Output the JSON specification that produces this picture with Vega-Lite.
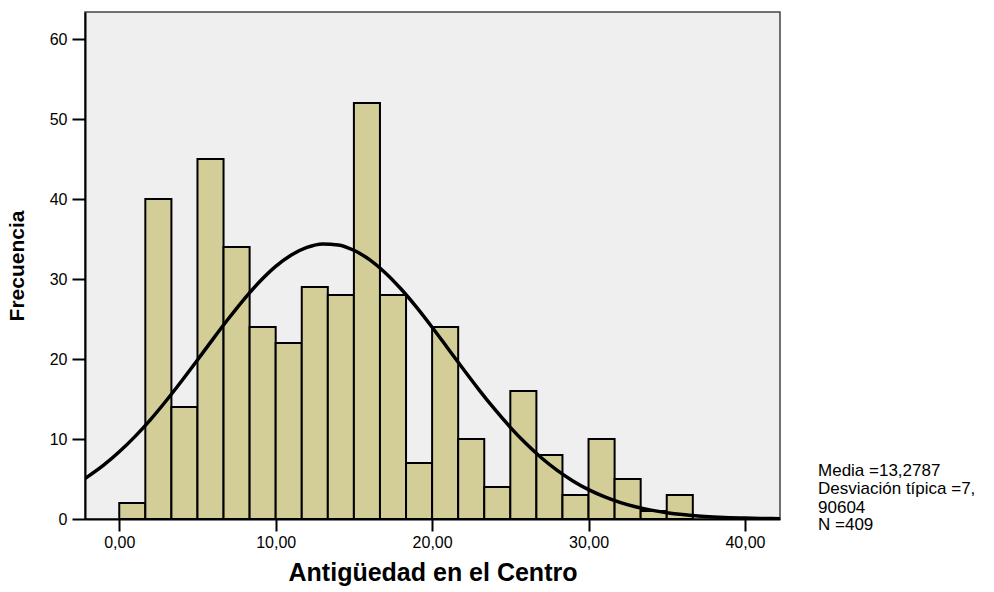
{
  "$schema": "https://vega.github.io/schema/vega-lite/v6.json",
  "width": 695,
  "height": 507,
  "autosize": "none",
  "padding": {"left": 85, "top": 12, "right": 214, "bottom": 73},
  "background": "white",
  "config": {
    "font": "Liberation Sans",
    "view": {"fill": "#efefef", "stroke": "#444444", "strokeWidth": 1.5}
  },
  "datasets": {
    "bins": [
      {"x": 0.0, "x2": 1.6667, "y": 2},
      {"x": 1.6667, "x2": 3.3333, "y": 40},
      {"x": 3.3333, "x2": 5.0, "y": 14},
      {"x": 5.0, "x2": 6.6667, "y": 45},
      {"x": 6.6667, "x2": 8.3333, "y": 34},
      {"x": 8.3333, "x2": 10.0, "y": 24},
      {"x": 10.0, "x2": 11.6667, "y": 22},
      {"x": 11.6667, "x2": 13.3333, "y": 29},
      {"x": 13.3333, "x2": 15.0, "y": 28},
      {"x": 15.0, "x2": 16.6667, "y": 52},
      {"x": 16.6667, "x2": 18.3333, "y": 28},
      {"x": 18.3333, "x2": 20.0, "y": 7},
      {"x": 20.0, "x2": 21.6667, "y": 24},
      {"x": 21.6667, "x2": 23.3333, "y": 10},
      {"x": 23.3333, "x2": 25.0, "y": 4},
      {"x": 25.0, "x2": 26.6667, "y": 16},
      {"x": 26.6667, "x2": 28.3333, "y": 8},
      {"x": 28.3333, "x2": 30.0, "y": 3},
      {"x": 30.0, "x2": 31.6667, "y": 10},
      {"x": 31.6667, "x2": 33.3333, "y": 5},
      {"x": 33.3333, "x2": 35.0, "y": 1},
      {"x": 35.0, "x2": 36.6667, "y": 3}
    ],
    "curve": [
      {"x": -2.19, "y": 5.06},
      {"x": -1, "y": 6.73},
      {"x": 0, "y": 8.40},
      {"x": 1, "y": 10.30},
      {"x": 2, "y": 12.43},
      {"x": 3, "y": 14.78},
      {"x": 4, "y": 17.28},
      {"x": 5, "y": 19.88},
      {"x": 6, "y": 22.52},
      {"x": 7, "y": 25.09},
      {"x": 8, "y": 27.53},
      {"x": 9, "y": 29.71},
      {"x": 10, "y": 31.57},
      {"x": 11, "y": 33.00},
      {"x": 12, "y": 33.95},
      {"x": 13, "y": 34.38},
      {"x": 14, "y": 34.26},
      {"x": 15, "y": 33.59},
      {"x": 16, "y": 32.42},
      {"x": 17, "y": 30.79},
      {"x": 18, "y": 28.78},
      {"x": 19, "y": 26.48},
      {"x": 20, "y": 23.97},
      {"x": 21, "y": 21.35},
      {"x": 22, "y": 18.72},
      {"x": 23, "y": 16.15},
      {"x": 24, "y": 13.72},
      {"x": 25, "y": 11.46},
      {"x": 26, "y": 9.43},
      {"x": 27, "y": 7.63},
      {"x": 28, "y": 6.08},
      {"x": 29, "y": 4.76},
      {"x": 30, "y": 3.67},
      {"x": 31, "y": 2.79},
      {"x": 32, "y": 2.08},
      {"x": 33, "y": 1.53},
      {"x": 34, "y": 1.11},
      {"x": 35, "y": 0.79},
      {"x": 36, "y": 0.55},
      {"x": 37, "y": 0.38},
      {"x": 38, "y": 0.26},
      {"x": 39, "y": 0.17},
      {"x": 40, "y": 0.11},
      {"x": 41, "y": 0.07},
      {"x": 42.24, "y": 0.04}
    ],
    "notes": [
      {"x": 44.67, "y": 5.375, "label": "Media =13,2787"},
      {"x": 44.67, "y": 3.125, "label": "Desviación típica =7,"},
      {"x": 44.67, "y": 0.79, "label": "90604"},
      {"x": 44.67, "y": -1.375, "label": "N =409"}
    ]
  },
  "encoding": {
    "x": {
      "field": "x",
      "type": "quantitative",
      "scale": {"domain": [-2.19, 42.24], "nice": false, "zero": false},
      "axis": {
        "values": [0, 10, 20, 30, 40],
        "labelExpr": "replace(format(datum.value, '.2f'), '.', ',')",
        "grid": false,
        "tickSize": 12,
        "tickWidth": 2,
        "tickColor": "#000000",
        "domainColor": "#000000",
        "domainWidth": 2,
        "labelFontSize": 16,
        "labelColor": "#000000",
        "labelPadding": 3,
        "labelFlush": false,
        "title": "Antigüedad en el Centro",
        "titleFontSize": 25,
        "titleFontWeight": "bold",
        "titleColor": "#000000",
        "titlePadding": 10
      }
    },
    "y": {
      "field": "y",
      "type": "quantitative",
      "scale": {"domain": [0, 63.375], "nice": false, "zero": false},
      "axis": {
        "values": [0, 10, 20, 30, 40, 50, 60],
        "grid": false,
        "tickSize": 13,
        "tickWidth": 2,
        "tickColor": "#000000",
        "domainColor": "#000000",
        "domainWidth": 2,
        "labelFontSize": 16,
        "labelColor": "#000000",
        "labelPadding": 5,
        "labelFlush": false,
        "title": "Frecuencia",
        "titleFontSize": 21,
        "titleFontWeight": "bold",
        "titleColor": "#000000",
        "titlePadding": 22
      }
    }
  },
  "layer": [
    {
      "data": {"name": "bins"},
      "mark": {"type": "rect", "fill": "#d3ce97", "stroke": "#000000", "strokeWidth": 2},
      "encoding": {
        "x2": {"field": "x2"},
        "y2": {"datum": 0}
      }
    },
    {
      "data": {"name": "curve"},
      "mark": {"type": "line", "color": "#000000", "strokeWidth": 3.5, "interpolate": "monotone", "clip": true},
      "encoding": {}
    },
    {
      "data": {"name": "notes"},
      "mark": {"type": "text", "align": "left", "baseline": "alphabetic", "fontSize": 17, "color": "#000000"},
      "encoding": {
        "text": {"field": "label", "type": "nominal"}
      }
    }
  ]
}
